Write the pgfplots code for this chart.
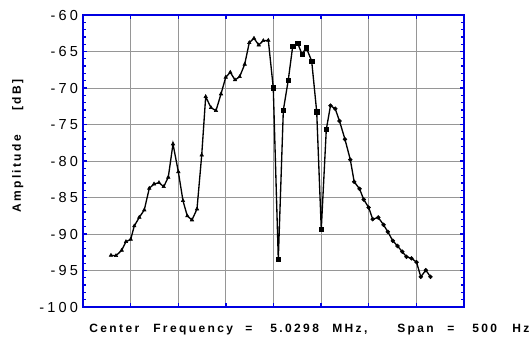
\documentclass[border=0pt]{standalone}
\usepackage{fontspec}
\setmainfont{Liberation Sans}
\usepackage{pgfplots}
\pgfplotsset{compat=1.18}
\definecolor{axblue}{RGB}{0,0,225}
\definecolor{gridgray}{RGB}{150,150,150}
\newcommand{\tickfont}{\fontsize{10.9}{12}\selectfont\addfontfeatures{LetterSpace=22}}
\newcommand{\labfont}{\fontsize{9}{10}\selectfont\bfseries\addfontfeatures{LetterSpace=20}}
\begin{document}
\begin{tikzpicture}
\begin{axis}[
  at={(62.25pt,-230.25pt)}, anchor=south west,
  scale only axis, width=285.75pt, height=219pt,
  xmin=0, xmax=500, ymin=-100, ymax=-60,
  xtick={62.5,125,187.5,250,312.5,375,437.5},
  xticklabels={},
  ytick={-100,-95,-90,-85,-80,-75,-70,-65,-60},
  yticklabels={{-100},{-95},{-90},{-85},{-80},{-75},{-70},{-65},{-60}},
  minor y tick num=4,
  tick align=inside, tick pos=both,
  major tick length=3.2pt, minor tick length=2.4pt,
  every tick/.style={axblue, line width=1pt},
  axis line style={draw=axblue, line width=1.6pt},
  grid=major,
  major grid style={gridgray, line width=0.6pt},
  minor grid style={draw=none},
  yticklabel style={font=\tickfont, anchor=east, inner sep=0pt, xshift=-3.5pt},
]
\addplot[black, line width=1pt] coordinates {
(36.7,-92.92)(43.3,-92.97)(50.8,-92.23)(56.4,-91.05)(62.6,-90.73)(67.3,-88.90)(73.9,-87.71)(80.4,-86.71)(87.0,-83.74)(93.2,-83.15)(99.7,-82.97)(105.9,-83.52)(111.9,-82.23)(118.1,-77.67)(125.1,-81.47)(131.2,-85.44)(136.9,-87.53)(143.0,-88.08)(149.6,-86.58)(155.8,-79.18)(161.0,-71.19)(168.0,-72.70)(174.5,-73.11)(181.1,-70.82)(187.3,-68.53)(193.3,-67.85)(199.5,-68.90)(205.6,-68.45)(212.2,-66.75)(218.2,-63.79)(224.4,-63.19)(230.6,-64.11)(236.6,-63.52)(243.2,-63.47)
(249.7,-69.96)(256.3,-93.47)(262.9,-73.05)(269.4,-68.90)(275.2,-64.29)(281.8,-63.88)(287.4,-65.38)(293.0,-64.48)(300.1,-66.30)(306.7,-73.25)(312.7,-89.36)(319.3,-75.66)
(324.8,-72.42)(331.0,-72.84)(336.6,-74.52)(343.8,-77.03)(350.8,-79.82)(355.9,-82.85)(362.9,-83.81)(368.4,-85.27)(374.9,-86.37)(380.2,-87.97)(387.5,-87.74)(394.4,-88.74)(400.0,-89.70)(406.6,-90.93)(412.7,-91.64)(419.0,-92.42)(424.5,-93.12)(431.1,-93.33)(437.7,-93.86)(443.3,-95.86)(449.9,-94.96)(456.0,-95.86)
};
\addplot[only marks, mark=triangle*, mark size=1.5pt, black] coordinates {
(36.7,-92.92)(43.3,-92.97)(50.8,-92.23)(56.4,-91.05)(62.6,-90.73)(67.3,-88.90)(73.9,-87.71)(80.4,-86.71)(87.0,-83.74)(93.2,-83.15)(99.7,-82.97)(105.9,-83.52)(111.9,-82.23)(118.1,-77.67)(125.1,-81.47)(131.2,-85.44)(136.9,-87.53)(143.0,-88.08)(149.6,-86.58)(155.8,-79.18)(161.0,-71.19)(168.0,-72.70)(174.5,-73.11)(181.1,-70.82)(187.3,-68.53)(193.3,-67.85)(199.5,-68.90)(205.6,-68.45)(212.2,-66.75)(218.2,-63.79)(224.4,-63.19)(230.6,-64.11)(236.6,-63.52)(243.2,-63.47)
};
\addplot[only marks, mark=square*, mark size=1.6pt, black] coordinates {
(249.7,-69.96)(256.3,-93.47)(262.9,-73.05)(269.4,-68.90)(275.2,-64.29)(281.8,-63.88)(287.4,-65.38)(293.0,-64.48)(300.1,-66.30)(306.7,-73.25)(312.7,-89.36)(319.3,-75.66)
};
\addplot[only marks, mark=*, mark size=1.45pt, black] coordinates {
(324.8,-72.42)(331.0,-72.84)(336.6,-74.52)(343.8,-77.03)(350.8,-79.82)(355.9,-82.85)(362.9,-83.81)(368.4,-85.27)(374.9,-86.37)(380.2,-87.97)(387.5,-87.74)(394.4,-88.74)(400.0,-89.70)(406.6,-90.93)(412.7,-91.64)(419.0,-92.42)(424.5,-93.12)(431.1,-93.33)(437.7,-93.86)(443.3,-95.86)(449.9,-94.96)(456.0,-95.86)
};
\end{axis}
\begin{scope}[x=0.75pt, y=-0.75pt]
  \foreach \px/\w in {89/Center, 153/Frequency, 245/=, 270/5.0298, 332/{MHz,}, 397/Span, 447/=, 472/500, 512/Hz}
    \node[anchor=base west, inner sep=0pt, font=\labfont] at (\px,332) {\w};
  \node[anchor=base west, inner sep=0pt, rotate=90, font=\labfont] at (21,213) {Amplitude};
  \node[anchor=base west, inner sep=0pt, rotate=90, font=\labfont] at (21,111) {[dB]};
\end{scope}
\pgfresetboundingbox
\path[use as bounding box] (0,0) rectangle (398.25pt,-254.25pt);
\end{tikzpicture}
\end{document}
